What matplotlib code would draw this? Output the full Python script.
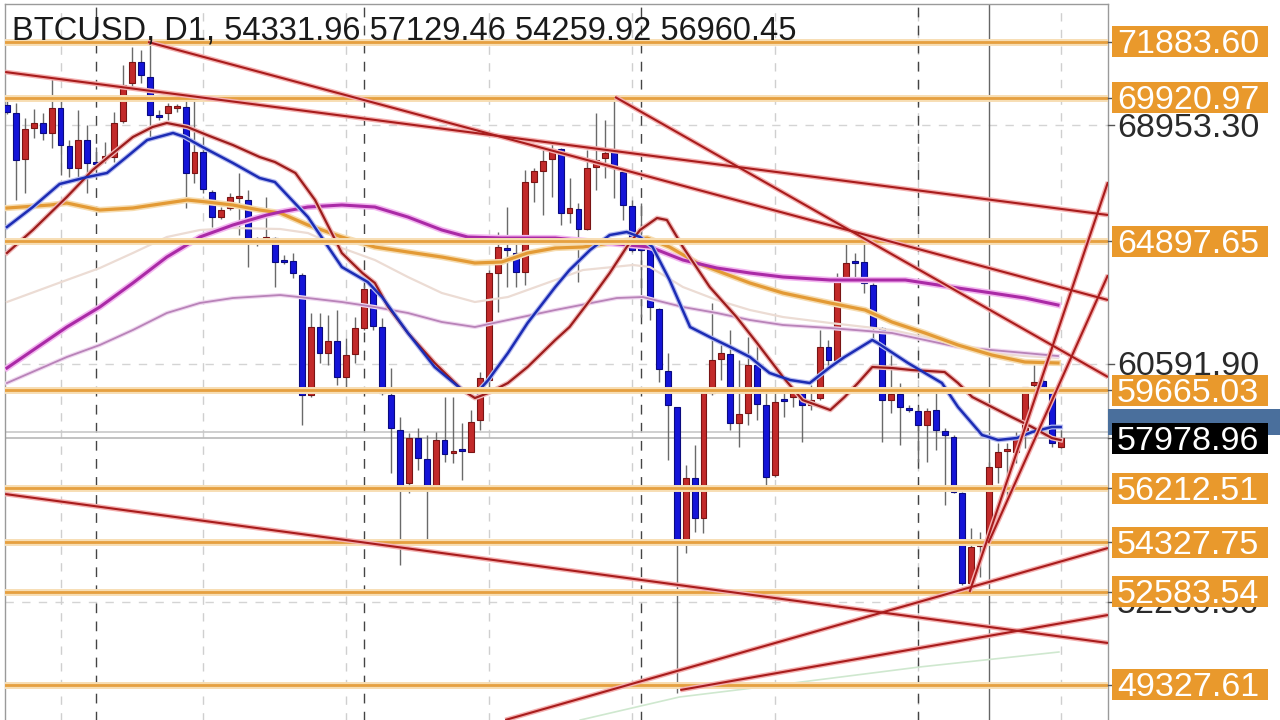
import matplotlib
matplotlib.use('Agg')
import matplotlib.pyplot as plt
import matplotlib.transforms as mtransforms
from matplotlib.patches import Rectangle
from matplotlib.lines import Line2D
import numpy as np

# BTCUSD daily candles, oldest first
opens = [69672, 69391, 67776, 68864, 69040, 68689, 69566, 68232, 67460, 68443,
         67671, 67811, 67846, 69110, 70444, 71181, 70654, 69321, 69391, 69566,
         69601, 67285, 68022, 66618, 65740, 66056, 66407, 66337, 64898, 64863,
         65003, 64231, 64196, 63705, 59493, 61879, 60967, 61388, 60124, 60932,
         61844, 63213, 61879, 59493, 58264, 56404, 57983, 57246, 56263, 57913,
         57457, 57597, 57492, 58615, 60019, 63775, 64652, 64477, 63810, 66969,
         67355, 67776, 68127, 65881, 66021, 65319, 67495, 67811, 68022, 67320,
         66126, 64687, 64687, 62511, 60335, 59071, 54403, 56579, 55175, 59563,
         60756, 60932, 58510, 58861, 60546, 59142, 56685, 59352, 59422, 59668,
         59142, 59387, 61177, 60721, 63599, 64196, 64161, 63354, 61844, 59317,
         59528, 59036, 58931, 58440, 58966, 58229, 58018, 56053, 52894, 54192,
         54331.96, 56965, 57527, 57492, 58194, 59844, 59984, 59598, 57667]
highs = [69847, 69742, 69215, 69531, 69391, 70619, 69952, 68443, 69496, 68970,
         68197, 68373, 69426, 71076, 71707, 71602, 71883, 69496, 69742, 69707,
         69952, 69952, 68548, 66688, 66091, 66583, 67285, 66688, 65038, 66442,
         65038, 64407, 64477, 63775, 62371, 62371, 62301, 62476, 61493, 62230,
         63354, 63529, 62195, 60440, 58720, 58159, 58334, 58089, 58194, 59422,
         59422, 58510, 58966, 60300, 63880, 65214, 66091, 65038, 67390, 67460,
         68092, 68338, 68162, 67109, 66232, 68092, 69391, 69145, 70022, 67390,
         66337, 66232, 64828, 62546, 60967, 59071, 57036, 57738, 59773, 62722,
         61248, 61774, 60721, 61528, 61423, 59668, 59563, 59668, 59773, 59773,
         59844, 61774, 61423, 63775, 64863, 64477, 64828, 63424, 61879, 60897,
         59914, 59142, 59071, 59036, 59668, 58334, 58089, 56088, 54824, 54684,
         57129.46, 57808, 57808, 58194, 59773, 60546, 60370, 59668, 58264]
lows = [69356, 66337, 66583, 68513, 68443, 68162, 67215, 67144, 67144, 66583,
        67390, 67636, 67671, 69040, 70303, 70444, 68513, 69145, 69145, 69426,
        66056, 66934, 66583, 65389, 65670, 65986, 65109, 63985, 64722, 64828,
        63283, 64091, 63599, 58440, 59422, 60616, 60546, 59844, 59773, 60616,
        61774, 61774, 59493, 56755, 53526, 56053, 56860, 54298, 56228, 57141,
        57106, 56509, 57492, 58264, 59773, 62406, 63283, 63283, 63354, 66267,
        65811, 66442, 65460, 65530, 63459, 65284, 66688, 67109, 66407, 65635,
        64512, 62230, 62125, 59949, 57211, 49050, 53947, 54684, 54649, 59493,
        60019, 58264, 57667, 58440, 58615, 56158, 56614, 58720, 59071, 57843,
        58966, 59317, 60370, 60651, 63529, 63599, 63073, 61423, 57843, 58861,
        57738, 58896, 57141, 57141, 57562, 55632, 56053, 52824, 52824, 53104,
        54259.92, 56404, 55877, 57106, 57632, 59422, 59668, 57667, 57632]
closes = [69426, 67741, 68829, 69040, 68689, 69566, 68268, 67460, 68443, 67636,
          67601, 67846, 69040, 70374, 71181, 70725, 69321, 69250, 69636, 69636,
          67285, 68022, 66723, 65740, 65986, 66442, 66477, 64968, 64828, 65038,
          64161, 64161, 63775, 59493, 61879, 60967, 61388, 60124, 60897, 61844,
          63213, 61914, 59563, 58334, 56334, 57983, 57281, 56263, 57913, 57422,
          57527, 57527, 58545, 60089, 63775, 64687, 64582, 63810, 66969, 67355,
          67706, 68127, 65881, 66056, 65319, 67460, 67741, 67987, 67460, 66161,
          64582, 64582, 62581, 60405, 59142, 54403, 56579, 55175, 59563, 60721,
          60967, 58510, 58826, 60546, 59177, 56614, 59247, 59282, 59633, 59142,
          59317, 61177, 60721, 63529, 64126, 64126, 63424, 61879, 59317, 59528,
          59071, 58966, 58440, 58931, 58264, 58089, 56088, 52894, 54157, 54298,
          56960.45, 57492, 57597, 57948, 59773, 59949, 59773, 57808, 57979]

# moving averages, sampled at bar positions
blue_ma_x = [0, 2.9, 5.9, 9, 11.2, 13.4, 15.7, 18.6, 19.9, 21.9, 25.3, 28.3, 30, 33.7,
             37.5, 40.4, 42, 44.9, 47.9, 51, 52.7, 53.9, 56.1, 58.3, 61.4, 63, 65.3,
             67.5, 69.4, 70.9, 72.3, 74.2, 76.5, 78.7, 81, 83.2, 85.4, 87.7, 89.9,
             92.2, 93.8, 96.9, 97.5, 100.9, 104.7, 106.5, 109.2, 111, 113.1, 114.8,
             117, 118]
blue_ma = [65389, 66091, 66899, 67144, 67285, 67846, 68443, 68689, 68548, 68197,
           67636, 67109, 66969, 65740, 63985, 63459, 62932, 61669, 60475, 59668,
           59598, 60019, 60967, 62020, 63283, 63880, 64582, 65108, 65214, 65038,
           64687, 63529, 61879, 61528, 61177, 60826, 60265, 60019, 59914, 60475,
           60826, 61423, 61318, 60616, 59914, 59071, 58089, 57913, 57983, 58194,
           58369, 58369]
red_ma_x = [0, 2.9, 6.7, 9.6, 11.9, 14.1, 16.3, 17.9, 20.2, 22.4, 25.3, 28.3, 30,
            32.3, 34.5, 37.5, 39.8, 41.2, 42.7, 44.9, 47.9, 51, 52.4, 53.9, 56.1,
            58.3, 61.4, 63, 65.3, 67.5, 69.4, 70.9, 72.8, 73.9, 75.7, 78.7, 81.7,
            84, 86.9, 89.1, 92.2, 93.8, 95.3, 96.9, 99.1, 101.3, 105, 106.5, 108.1,
            110.3, 112.5, 114.8, 117, 118]
red_ma = [64477, 65284, 66442, 67390, 67987, 68548, 68899, 69040, 68899, 68618,
          68267, 67846, 67671, 67285, 66337, 64477, 63775, 63424, 62581, 61669,
          60616, 59668, 59387, 59563, 59914, 60475, 61423, 61879, 62827, 63775,
          64687, 65284, 65705, 65635, 64687, 63283, 62230, 61318, 60124, 59317,
          58966, 59422, 59914, 60475, 60440, 60370, 60300, 59914, 59422, 59071,
          58720, 58369, 57983, 57913]
orange_ma_x = [0, 4.8, 6.7, 10.4, 14.1, 17.9, 20.2, 22.4, 25.3, 28.3, 30.6, 33.7,
               37.5, 41.2, 44.9, 48.7, 52.4, 55.4, 58.3, 61.4, 64.5, 68.3, 71.7,
               74.2, 77.3, 80.2, 83.2, 86.9, 92.2, 96.1, 99.1, 102.8, 106.5, 110.3,
               114, 117.7]
orange_ma = [66056, 66161, 66232, 65986, 66056, 66232, 66337, 66267, 66161, 65986,
             65881, 65460, 65038, 64687, 64512, 64336, 64126, 64161, 64477, 64652,
             64687, 64863, 65003, 64687, 64126, 63775, 63424, 63073, 62722, 62476,
             62055, 61669, 61248, 60897, 60651, 60616]
magenta_ma_x = [0, 6.7, 10.4, 14.1, 17.9, 21.6, 25.3, 29.1, 30.6, 33.7, 37.5, 41.2,
                44.9, 48.7, 51.6, 55.4, 61.4, 72, 75.7, 79.5, 83.2, 86.9, 92.2,
                100.6, 106.5, 110.3, 114, 117.7]
magenta_ma = [60440, 61879, 62581, 63424, 64336, 65038, 65460, 65811, 65916, 66091,
              66162, 66091, 65740, 65284, 65038, 65003, 65003, 64687, 64231, 63950,
              63775, 63634, 63529, 63529, 63248, 63073, 62897, 62651]
beige_ma_x = [0, 6.7, 10.4, 14.1, 17.9, 21.6, 25.3, 30.6, 33.7, 37.5, 41.2, 44.9,
              48.7, 52.4, 56.1, 61.4, 64.5, 70.1, 72, 75.7, 79.5, 83.2, 86.9, 92.2,
              99.1, 102.8, 106.5, 110.3, 114, 117.7]
beige_ma = [62757, 63529, 63950, 64477, 65038, 65284, 65354, 65319, 65178, 64652,
            64231, 63634, 63073, 62757, 62932, 63529, 63880, 64056, 63985, 63283,
            62827, 62476, 62230, 62020, 61774, 61528, 61177, 60967, 60861, 60791]
mauve_ma_x = [0, 6.7, 10.4, 14.1, 17.9, 21.6, 25.3, 30.6, 33.7, 37.5, 41.2, 44.9,
              48.7, 52.4, 56.1, 61.4, 68.3, 71.2, 75.7, 79.5, 83.2, 86.9, 92.2,
              99.1, 106.5, 114, 117.7]
mauve_ma = [59914, 60826, 61248, 61774, 62371, 62722, 62897, 63002, 62897, 62757,
            62581, 62371, 62055, 61879, 62125, 62476, 62897, 62932, 62581, 62371,
            62125, 61950, 61844, 61669, 61177, 60967, 60861]
green_ma_x = [64.2, 75.3, 86.3, 102.2, 117.8]
green_ma = [48085, 48892, 49314, 49946, 50472]

# horizontal support / resistance levels
levels = [71883.60, 69920.97, 64897.65, 59665.03, 56212.51, 54327.75, 52583.54, 49327.61]
grid_prices = [68953.30, 60591.90, 52230.50]
current_price = 57978.96
ask_price = 58190

# trendlines: (bar, price) -> (bar, price)
trendlines = [
    ((-0.2, 70830), (123.3, 65811)),
    ((15.8, 71883), (123.3, 62827)),
    ((68.1, 69952), (123.3, 60124)),
    ((107.8, 52578), (123.3, 66969)),
    ((109.9, 54298), (123.3, 63705)),
    ((55.8, 48085), (123.3, 54122)),
    ((75.4, 49138), (123.3, 51771)),
    ((-0.2, 56017), (123.3, 50788)),
]

light_grid_bars = [6, 22, 38, 54, 70, 86, 102, 118]
separator_bars = [10, 40, 71, 102]
crosshair_bar = 110

fig = plt.figure(figsize=(12.8, 7.2), dpi=100, facecolor='white')
ax = fig.add_axes([5 / 1280, -4 / 720, 1103 / 1280, 1.0])
ax.set_facecolor('white')
idx = np.arange(len(opens))
o = np.array(opens); h = np.array(highs); l = np.array(lows); c = np.array(closes)

# grid
for p in grid_prices:
    ax.axhline(p, color='#d4d4d4', lw=1, ls=(0, (6, 6)), zorder=1)
for b in light_grid_bars:
    ax.axvline(b, color='#cfcfcf', lw=1, ls=(0, (6, 6)), zorder=1)
for b in separator_bars:
    ax.axvline(b, color='#444444', lw=1, ls=(0, (7, 6)), zorder=1)
ax.axvline(crosshair_bar, color='#666666', lw=1, zorder=1)
ax.axhline(ask_price, color='#c8c8c8', lw=1.2, zorder=1)
ax.axhline(current_price, color='#b8b8b8', lw=1.2, zorder=1)

# candles
up = c >= o
ax.vlines(idx, l, h, color='#6a6a6a', lw=1, zorder=2)
body_bottom = np.minimum(o, c)
body_h = np.maximum(np.abs(c - o), 60)
ax.bar(idx[up], body_h[up], bottom=body_bottom[up], width=0.66,
       color='#c22a2a', edgecolor='#7a1414', linewidth=0.8, zorder=3)
ax.bar(idx[~up], body_h[~up], bottom=body_bottom[~up], width=0.66,
       color='#1414d8', edgecolor='#0a0a80', linewidth=0.8, zorder=3)

# moving averages
ax.plot(green_ma_x, green_ma, color='#cfe8cf', lw=1.2, zorder=3.2)
ax.plot(beige_ma_x, beige_ma, color='#ecdcd4', lw=1.6, zorder=3.2)
ax.plot(mauve_ma_x, mauve_ma, color='#f0d8f0', lw=3, zorder=3.2)
ax.plot(mauve_ma_x, mauve_ma, color='#b883b8', lw=1.3, zorder=3.3)
ax.plot(orange_ma_x, orange_ma, color='#f6dcb0', lw=4.5, zorder=3.4)
ax.plot(orange_ma_x, orange_ma, color='#e39a35', lw=2.3, zorder=3.5)
ax.plot(magenta_ma_x, magenta_ma, color='#f3b8f0', lw=4.5, zorder=3.4)
ax.plot(magenta_ma_x, magenta_ma, color='#aa2aa6', lw=2.2, zorder=3.5)
ax.plot(red_ma_x, red_ma, color='#f0b8b8', lw=3.5, zorder=3.6)
ax.plot(red_ma_x, red_ma, color='#9c1c1c', lw=1.6, zorder=3.7)
ax.plot(blue_ma_x, blue_ma, color='#b8bdf0', lw=3.5, zorder=3.6)
ax.plot(blue_ma_x, blue_ma, color='#1c2cb4', lw=1.8, zorder=3.7)

# horizontal levels
for lv in levels:
    ax.axhline(lv, color='#f7deb4', lw=5, zorder=4)
    ax.axhline(lv, color='#e6a040', lw=2, zorder=4.1)

# trendlines
for (x0, y0), (x1, y1) in trendlines:
    ax.plot([x0, x1], [y0, y1], color='#f4b0b0', lw=3.5, zorder=4.3, solid_capstyle='butt')
    ax.plot([x0, x1], [y0, y1], color='#a81c1c', lw=1.5, zorder=4.4, solid_capstyle='butt')

ax.set_xlim(-0.22, 123.3)
ax.set_ylim(47945, 73217)
ax.set_xticks([]); ax.set_yticks([])
for s in ['left', 'top', 'right']:
    ax.spines[s].set_color('#9a9a9a')
    ax.spines[s].set_linewidth(1)
ax.spines['bottom'].set_visible(False)

# right price scale
blend = mtransforms.blended_transform_factory(fig.transFigure, ax.transData)
px = 25272 / 720  # price per pixel
box_h = 31 * px
bx0, bw = 1112 / 1280, 156 / 1280
tx = 1117 / 1280
base = 11.5 * px  # baseline offset so digits sit centred on the level
font = dict(family=['Liberation Sans', 'DejaVu Sans'], fontsize=24.5, va='baseline', ha='left')

def tick(p):
    fig.add_artist(Line2D([1108 / 1280, 1114 / 1280], [p, p], transform=blend,
                          color='#555555', lw=1, zorder=4))

for p in grid_prices:
    tick(p)
    fig.text(tx, p - base, f'{p:.2f}', transform=blend, color='#2a2a2a', zorder=5, **font)

fig.add_artist(Rectangle((1108 / 1280, current_price + 3 * px), 172 / 1280, 26 * px,
                         transform=blend, fc='#4a6f9c', ec='none', zorder=5.5))
for lv in levels:
    tick(lv)
    fig.add_artist(Rectangle((bx0, lv - box_h / 2), bw, box_h, transform=blend,
                             fc='#e9992c', ec='none', zorder=6))
    fig.text(tx, lv - base, f'{lv:.2f}', transform=blend, color='white', zorder=7, **font)

tick(current_price)
fig.add_artist(Rectangle((bx0, current_price - box_h / 2), bw, box_h, transform=blend,
                         fc='black', ec='none', zorder=6))
fig.text(tx, current_price - base, f'{current_price:.2f}', transform=blend,
         color='white', zorder=7, **font)

# header
i = crosshair_bar
fig.text(12 / 1280, 1 - 31 / 720,
         f'BTCUSD, D1, {opens[i]:.2f} {highs[i]:.2f} {lows[i]:.2f} {closes[i]:.2f}',
         color='#1a1a1a', va='center', ha='left', family=['Liberation Sans', 'DejaVu Sans'],
         fontsize=23.5, zorder=8)

fig.savefig('out.png', dpi=100, facecolor='white')
